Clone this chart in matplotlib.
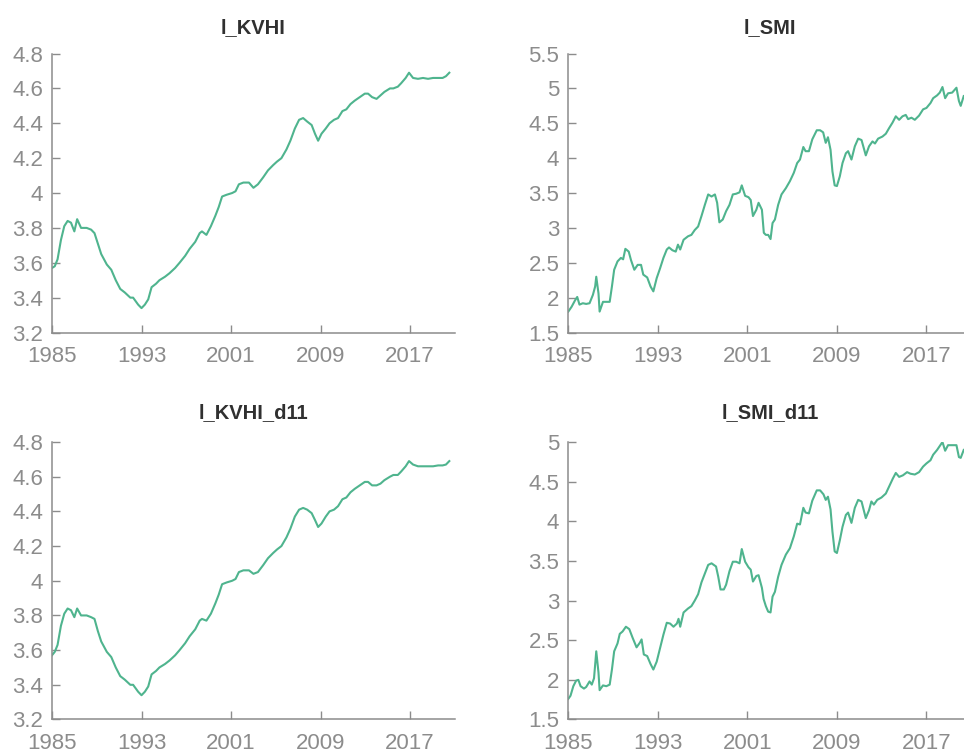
import matplotlib
matplotlib.use('Agg')
import matplotlib.pyplot as plt
from matplotlib.ticker import FuncFormatter

plt.rcParams['font.family'] = ['Liberation Sans', 'DejaVu Sans']

#ticks shared by all panels
year_ticks = [1985, 1993, 2001, 2009, 2017]

#l_KVHI (year, log index)
kvhi_years = [1985.0, 1985.25, 1985.5, 1985.8, 1986.1, 1986.4, 1986.7, 1987.0, 1987.25, 1987.6,
              1988.1, 1988.5, 1988.8, 1989.1, 1989.4, 1989.9, 1990.3, 1990.7, 1991.1, 1991.5,
              1992.0, 1992.25, 1992.7, 1993.0, 1993.3, 1993.6, 1993.9, 1994.3, 1994.6, 1995.1,
              1995.5, 1996.0, 1996.4, 1996.9, 1997.3, 1997.8, 1998.2, 1998.4, 1998.8, 1999.2,
              1999.6, 1999.9, 2000.2, 2000.6, 2001.1, 2001.4, 2001.7, 2002.1, 2002.6, 2003.0,
              2003.4, 2003.87, 2004.3, 2004.76, 2005.1, 2005.5, 2005.95, 2006.3, 2006.7, 2007.08,
              2007.44, 2007.8, 2008.2, 2008.5, 2008.78, 2009.08, 2009.46, 2009.8, 2010.2, 2010.56,
              2010.95, 2011.3, 2011.67, 2012.05, 2012.5, 2012.95, 2013.24, 2013.6, 2014.0, 2014.35,
              2014.7, 2015.2, 2015.5, 2015.9, 2016.2, 2016.6, 2016.9, 2017.26, 2017.7, 2018.15,
              2018.6, 2019.05, 2019.5, 2019.9, 2020.2, 2020.5]
l_kvhi = [3.57, 3.58, 3.62, 3.73, 3.81, 3.84, 3.83, 3.78, 3.85, 3.80,
          3.80, 3.79, 3.77, 3.71, 3.65, 3.59, 3.56, 3.50, 3.45, 3.43,
          3.40, 3.40, 3.36, 3.34, 3.36, 3.39, 3.46, 3.48, 3.50, 3.52,
          3.54, 3.57, 3.60, 3.64, 3.68, 3.72, 3.77, 3.78, 3.76, 3.81,
          3.87, 3.92, 3.98, 3.99, 4.00, 4.01, 4.05, 4.06, 4.06, 4.03,
          4.05, 4.09, 4.13, 4.16, 4.18, 4.20, 4.25, 4.30, 4.37, 4.42,
          4.43, 4.41, 4.39, 4.34, 4.30, 4.34, 4.37, 4.40, 4.42, 4.43,
          4.47, 4.48, 4.51, 4.53, 4.55, 4.57, 4.57, 4.55, 4.54, 4.56,
          4.58, 4.60, 4.60, 4.61, 4.63, 4.66, 4.69, 4.66, 4.655, 4.66,
          4.655, 4.66, 4.66, 4.66, 4.67, 4.69]
l_kvhi_d11 = [3.57, 3.59, 3.63, 3.74, 3.81, 3.84, 3.83, 3.79, 3.84, 3.80,
              3.80, 3.79, 3.78, 3.71, 3.65, 3.59, 3.56, 3.50, 3.45, 3.43,
              3.40, 3.40, 3.36, 3.34, 3.36, 3.39, 3.46, 3.48, 3.50, 3.52,
              3.54, 3.57, 3.60, 3.64, 3.68, 3.72, 3.77, 3.78, 3.77, 3.81,
              3.87, 3.92, 3.98, 3.99, 4.00, 4.01, 4.05, 4.06, 4.06, 4.04,
              4.05, 4.09, 4.13, 4.16, 4.18, 4.20, 4.25, 4.30, 4.37, 4.41,
              4.42, 4.41, 4.39, 4.35, 4.31, 4.33, 4.37, 4.40, 4.41, 4.43,
              4.47, 4.48, 4.51, 4.53, 4.55, 4.57, 4.57, 4.55, 4.55, 4.56,
              4.58, 4.60, 4.61, 4.61, 4.63, 4.66, 4.69, 4.67, 4.66, 4.66,
              4.66, 4.66, 4.665, 4.665, 4.67, 4.69]

#l_SMI
smi_years = [1985.0, 1985.3, 1985.6, 1985.8, 1986.0, 1986.3, 1986.6, 1986.9, 1987.2, 1987.4,
             1987.5, 1987.7, 1987.8, 1988.1, 1988.4, 1988.7, 1988.9, 1989.1, 1989.4, 1989.7,
             1989.9, 1990.1, 1990.4, 1990.6, 1990.9, 1991.2, 1991.5, 1991.7, 1992.05, 1992.35,
             1992.6, 1992.9, 1993.2, 1993.5, 1993.8, 1994.0, 1994.3, 1994.6, 1994.8, 1995.0,
             1995.3, 1995.7, 1996.0, 1996.3, 1996.6, 1996.9, 1997.2, 1997.5, 1997.8, 1998.1,
             1998.3, 1998.5, 1998.8, 1999.1, 1999.4, 1999.7, 2000.0, 2000.3, 2000.5, 2000.8,
             2001.1, 2001.3, 2001.5, 2001.8, 2002.0, 2002.3, 2002.47, 2002.65, 2002.86, 2003.07,
             2003.25, 2003.46, 2003.75, 2004.05, 2004.44, 2004.8, 2005.15, 2005.45, 2005.7, 2006.0,
             2006.2, 2006.5, 2006.8, 2007.2, 2007.5, 2007.77, 2008.0, 2008.2, 2008.43, 2008.6,
             2008.8, 2009.0, 2009.26, 2009.5, 2009.8, 2010.0, 2010.3, 2010.6, 2010.9, 2011.2,
             2011.58, 2011.87, 2012.18, 2012.4, 2012.68, 2013.07, 2013.37, 2013.66, 2013.97, 2014.26,
             2014.56, 2014.86, 2015.15, 2015.36, 2015.66, 2015.96, 2016.34, 2016.7, 2017.0, 2017.36,
             2017.6, 2017.95, 2018.19, 2018.43, 2018.67, 2018.93, 2019.3, 2019.68, 2019.9, 2020.06,
             2020.33]
l_smi = [1.80, 1.87, 1.96, 2.01, 1.90, 1.92, 1.91, 1.92, 2.04, 2.16,
         2.30, 2.06, 1.80, 1.94, 1.94, 1.94, 2.16, 2.40, 2.52, 2.57,
         2.55, 2.70, 2.66, 2.54, 2.40, 2.47, 2.47, 2.33, 2.29, 2.16,
         2.09, 2.28, 2.42, 2.57, 2.69, 2.72, 2.68, 2.66, 2.76, 2.69,
         2.83, 2.88, 2.90, 2.97, 3.02, 3.17, 3.33, 3.48, 3.45, 3.48,
         3.36, 3.08, 3.12, 3.24, 3.33, 3.48, 3.49, 3.51, 3.61, 3.46,
         3.44, 3.40, 3.17, 3.26, 3.36, 3.26, 2.93, 2.90, 2.90, 2.84,
         3.07, 3.12, 3.33, 3.48, 3.57, 3.67, 3.79, 3.93, 3.98, 4.16,
         4.10, 4.10, 4.27, 4.40, 4.40, 4.37, 4.22, 4.30, 4.12, 3.81,
         3.61, 3.60, 3.74, 3.93, 4.07, 4.10, 3.98, 4.17, 4.28, 4.26,
         4.04, 4.17, 4.24, 4.21, 4.28, 4.31, 4.35, 4.43, 4.51, 4.60,
         4.55, 4.60, 4.62, 4.56, 4.58, 4.55, 4.61, 4.70, 4.72, 4.79,
         4.86, 4.90, 4.94, 5.02, 4.86, 4.93, 4.94, 5.01, 4.82, 4.75,
         4.89]

#l_SMI_d11
smi_d11_years = [1985.0, 1985.2, 1985.45, 1985.7, 1985.9, 1986.1, 1986.4, 1986.6, 1986.9, 1987.1,
                 1987.3, 1987.5, 1987.7, 1987.8, 1988.1, 1988.4, 1988.7, 1988.9, 1989.1, 1989.4,
                 1989.6, 1989.85, 1990.15, 1990.45, 1990.75, 1991.1, 1991.4, 1991.55, 1991.75, 1992.05,
                 1992.35, 1992.6, 1992.9, 1993.2, 1993.5, 1993.8, 1994.1, 1994.4, 1994.7, 1994.85,
                 1995.0, 1995.3, 1995.7, 1996.0, 1996.3, 1996.6, 1996.9, 1997.2, 1997.5, 1997.8,
                 1998.2, 1998.4, 1998.6, 1998.9, 1999.1, 1999.4, 1999.7, 2000.0, 2000.3, 2000.5,
                 2000.8, 2001.1, 2001.3, 2001.5, 2001.8, 2002.0, 2002.3, 2002.45, 2002.65, 2002.86,
                 2003.07, 2003.25, 2003.46, 2003.75, 2004.05, 2004.44, 2004.8, 2005.15, 2005.45, 2005.7,
                 2006.0, 2006.2, 2006.5, 2006.8, 2007.2, 2007.5, 2007.8, 2008.0, 2008.2, 2008.43,
                 2008.6, 2008.8, 2009.0, 2009.26, 2009.5, 2009.8, 2010.0, 2010.3, 2010.6, 2010.9,
                 2011.2, 2011.58, 2011.87, 2012.08, 2012.3, 2012.6, 2012.98, 2013.37, 2013.73, 2014.0,
                 2014.26, 2014.56, 2014.9, 2015.27, 2015.57, 2015.96, 2016.34, 2016.7, 2017.0, 2017.36,
                 2017.6, 2017.95, 2018.19, 2018.43, 2018.67, 2018.93, 2019.3, 2019.68, 2019.9, 2020.06,
                 2020.33]
l_smi_d11 = [1.76, 1.80, 1.92, 1.99, 2.00, 1.92, 1.89, 1.91, 1.98, 1.94,
             2.02, 2.36, 2.09, 1.87, 1.93, 1.92, 1.94, 2.13, 2.36, 2.46,
             2.58, 2.61, 2.67, 2.64, 2.53, 2.41, 2.47, 2.51, 2.32, 2.30,
             2.20, 2.13, 2.23, 2.40, 2.57, 2.72, 2.71, 2.67, 2.71, 2.77,
             2.67, 2.85, 2.90, 2.93, 3.00, 3.08, 3.23, 3.34, 3.45, 3.47,
             3.43, 3.30, 3.14, 3.14, 3.20, 3.37, 3.49, 3.49, 3.47, 3.65,
             3.49, 3.42, 3.39, 3.24, 3.31, 3.32, 3.16, 3.02, 2.93, 2.86,
             2.85, 3.05, 3.11, 3.30, 3.45, 3.58, 3.66, 3.81, 3.97, 3.96,
             4.17, 4.11, 4.10, 4.26, 4.39, 4.39, 4.34, 4.27, 4.31, 4.15,
             3.87, 3.62, 3.60, 3.76, 3.93, 4.08, 4.11, 3.98, 4.17, 4.27,
             4.25, 4.04, 4.14, 4.25, 4.21, 4.27, 4.30, 4.35, 4.46, 4.54,
             4.61, 4.56, 4.58, 4.62, 4.60, 4.59, 4.62, 4.69, 4.73, 4.77,
             4.84, 4.90, 4.95, 5.00, 4.89, 4.96, 4.96, 4.96, 4.81, 4.80,
             4.90]

kvhi_yticks = [3.2, 3.4, 3.6, 3.8, 4.0, 4.2, 4.4, 4.6, 4.8]
smi_yticks = [1.5, 2.0, 2.5, 3.0, 3.5, 4.0, 4.5, 5.0, 5.5]
smi_d11_yticks = [1.5, 2.0, 2.5, 3.0, 3.5, 4.0, 4.5, 5.0]

line_color = '#4fb48e'
axis_gray = '#8c8c8c'


#matlab-ish look: only left/bottom axis, ticks inside, gray labels
def style_axes(ax, yticks, title, pad):
    ax.spines['top'].set_visible(False)
    ax.spines['right'].set_visible(False)
    for side in ['left', 'bottom']:
        ax.spines[side].set_color(axis_gray)
        ax.spines[side].set_linewidth(1.1)
    ax.set_xlim(1985, 2021)
    ax.set_xticks(year_ticks)
    ax.set_ylim(yticks[0], yticks[-1])
    ax.set_yticks(yticks)
    ax.yaxis.set_major_formatter(FuncFormatter(lambda v, p: f'{v:g}'))
    ax.tick_params(direction='in', length=6, width=1, color=axis_gray,
                   labelcolor=axis_gray, labelsize=16)
    ax.tick_params(axis='x', pad=9.5)
    ax.tick_params(axis='y', pad=6.5)
    ax.set_title(title, fontsize=14.5, fontweight='bold', color='#303030', pad=pad)


fig = plt.figure(figsize=(9.64, 7.53), dpi=100)

#axes placed by hand, right column runs past the figure edge like the source
ax1 = fig.add_axes([0.0539, 0.5584, 0.418, 0.3705])
ax2 = fig.add_axes([0.5895, 0.5584, 0.418, 0.3705])
ax3 = fig.add_axes([0.0539, 0.0445, 0.418, 0.3685])
ax4 = fig.add_axes([0.5895, 0.0445, 0.418, 0.3685])

ax1.plot(kvhi_years, l_kvhi, color=line_color, linewidth=1.5)
ax2.plot(smi_years, l_smi, color=line_color, linewidth=1.5)
ax3.plot(kvhi_years, l_kvhi_d11, color=line_color, linewidth=1.5)
ax4.plot(smi_d11_years, l_smi_d11, color=line_color, linewidth=1.5)

style_axes(ax1, kvhi_yticks, 'l_KVHI', 15)
style_axes(ax2, smi_yticks, 'l_SMI', 15)
style_axes(ax3, kvhi_yticks, 'l_KVHI_d11', 17)
style_axes(ax4, smi_d11_yticks, 'l_SMI_d11', 17)

fig.savefig('out.png', dpi=100)
